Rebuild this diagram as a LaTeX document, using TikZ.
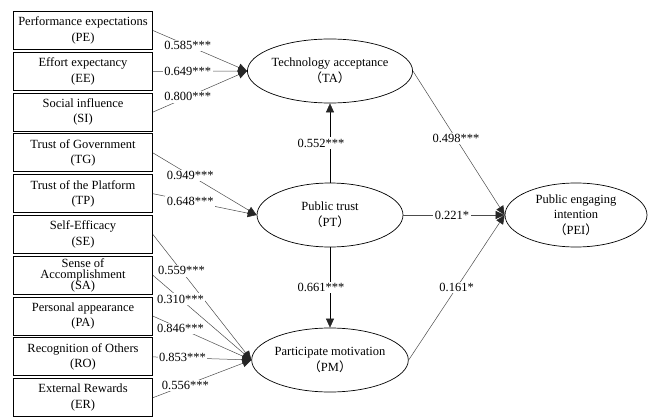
\documentclass[tikz,border=0pt]{standalone}
\usepackage{fontspec}
\setmainfont{Liberation Serif}
\newfontfamily\cjk{Noto Sans CJK SC}
\usetikzlibrary{arrows.meta,positioning,shapes.geometric}
\newcommand{\fwp}[1]{{\cjk（}#1{\cjk）}}

\begin{document}
\begin{tikzpicture}[
        x=1pt,
        y=-1pt,
        font=\fontsize{12.5}{15.5}\selectfont,
        factor/.style={draw, line width=0.9pt, minimum width=139pt, minimum height=38pt, inner sep=0pt, align=center},
        latent/.style={draw, ellipse, line width=0.7pt, minimum width=146pt, minimum height=64pt, inner sep=0pt, align=center},
        link/.style={gray!60!black, line width=0.5pt, -{Triangle[length=9pt,width=8pt,color=black!85]}},
        lbl/.style={fill=white, inner sep=1.5pt, text=black}
    ]
        \useasboundingbox (0,0) rectangle (655,417);

        % observed factors
        \foreach \nm/\txt [count=\i from 0] in {
            PE/{Performance expectations\\(PE)},
            EE/{Effort expectancy\\(EE)},
            SI/{Social influence\\(SI)},
            TG/{Trust of Government\\(TG)},
            TP/{Trust of the Platform\\(TP)},
            SE/{Self-Efficacy\\(SE)},
            SA/{Sense of\\[-4.5pt]Accomplishment\\[-4.5pt](SA)},
            PA/{Personal appearance\\(PA)},
            RO/{Recognition of Others\\(RO)},
            ER/{External Rewards\\(ER)}} {
            \node[factor] (\nm) at (83,{30.5+40.8*\i}) {\txt};
        }

        % latent constructs
        \node[latent] (TA) at (330,71) {Technology acceptance\\\fwp{TA}};
        \node[latent] (PT) at (330,215) {Public trust\\\fwp{PT}};
        \node[latent] (PM) at (330,360) {Participate motivation\\\fwp{PM}};
        \node[latent, minimum width=142pt] (PEI) at (576,215) {Public engaging\\intention\\\fwp{PEI}};

        \foreach \nm/\p/\val in {PE/0.37/0.585***, EE/0.37/0.649***, SI/0.37/0.800***} {
            \draw[link] (\nm.east) -- node[lbl, pos=\p] {\val} (TA.west);
        }
        \foreach \nm/\p/\val in {TG/0.36/0.949***, TP/0.36/0.648***} {
            \draw[link] (\nm.east) -- node[lbl, pos=\p] {\val} (PT.west);
        }
        \foreach \nm/\p/\val in {SE/0.29/0.559***, SA/0.28/0.310***, PA/0.28/0.846***,
                                 RO/0.30/0.853***, ER/0.33/0.556***} {
            \draw[link] (\nm.east) -- node[lbl, pos=\p] {\val} (PM.west);
        }

        \draw[link, black] (PT.north) -- node[lbl, xshift=-9pt] {0.552***} (TA.south);
        \draw[link, black] (PT.south) -- node[lbl, xshift=-9pt] {0.661***} (PM.north);
        \draw[link] (TA.east) -- node[lbl, pos=0.47] {0.498***} (PEI.west);
        \draw[link] (PT.east) -- node[lbl, pos=0.48] {0.221*} (PEI.west);
        \draw[link] (PM.east) -- node[lbl, pos=0.5] {0.161*} (PEI.west);
\end{tikzpicture}
\end{document}
